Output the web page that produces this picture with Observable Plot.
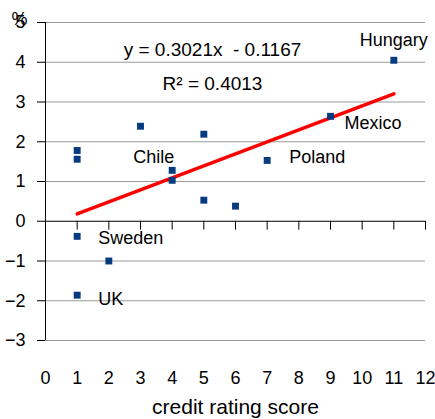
<!DOCTYPE html>
<html>
<head>
<meta charset="utf-8">
<script src="https://cdn.jsdelivr.net/npm/d3@7"></script>
<script src="https://cdn.jsdelivr.net/npm/@observablehq/plot@0.6"></script>
<style>
  html, body { margin: 0; padding: 0; background: #fff; }
  #chart svg { display: block; }
</style>
</head>
<body>
<div id="chart"></div>
<script>
// Data
const creditScore = [1, 1, 1, 1, 2, 3, 4, 4, 5, 5, 6, 7, 9, 11];
const spreadValues = [1.78, 1.56, -1.86, -0.38, -1.0, 2.39, 1.28, 1.03, 2.19, 0.53, 0.38, 1.53, 2.64, 4.05];
const pointLabels = ["", "", "UK", "Sweden", "", "", "Chile", "", "", "", "", "Poland", "Mexico", "Hungary"];

const xTicks = [0, 1, 2, 3, 4, 5, 6, 7, 8, 9, 10, 11, 12];
const yTicks = [-3, -2, -1, 0, 1, 2, 3, 4, 5];
const gridValues = [-3, -2, -1, 1, 2, 3, 4, 5];

const trendSlope = 0.3021;
const trendIntercept = -0.1167;
const trendRange = [1, 11];
const equationText = "y = 0.3021x  - 0.1167";
const r2Text = "R\u00B2 = 0.4013";
const xLabel = "credit rating score";
const yUnit = "%";

const points = creditScore.map((x, i) => ({x, y: spreadValues[i], label: pointLabels[i]}));
const trend = trendRange.map(x => ({x, y: trendSlope * x + trendIntercept}));

// label offsets (styling, in pixels)
const labelStyle = {
  "Hungary": {dx: 0, dy: -20, anchor: "middle"},
  "Mexico": {dx: 14, dy: 7, anchor: "start"},
  "Poland": {dx: 22, dy: -3, anchor: "start"},
  "Chile": {dx: -39, dy: -13, anchor: "start"},
  "Sweden": {dx: 21, dy: 2, anchor: "start"},
  "UK": {dx: 21, dy: 4, anchor: "start"}
};
const labeled = points.filter(d => d.label);

const font = "Liberation Sans, Arial, sans-serif";
const textMarks = labeled.map(d => Plot.text([d], {
  x: "x", y: "y", text: "label",
  dx: labelStyle[d.label].dx, dy: labelStyle[d.label].dy,
  textAnchor: labelStyle[d.label].anchor,
  lineAnchor: "middle",
  fontSize: 18, fill: "#000"
}));

const tickShape = {draw(context, l) { context.moveTo(0, 0); context.lineTo(0, -l); }};

const chart = Plot.plot({
  width: 435,
  height: 419,
  marginLeft: 45,
  marginRight: 10,
  marginTop: 22,
  marginBottom: 79,
  style: {fontFamily: font, background: "#fff", color: "#000"},
  x: {domain: [0, 12]},
  y: {domain: [-3, 5]},
  marks: [
    Plot.ruleY(gridValues, {x1: 0, x2: 12, stroke: "#9a9a9a", strokeWidth: 1}),
    Plot.ruleY([0], {x1: 0, x2: 12, stroke: "#000", strokeWidth: 1}),
    Plot.ruleX([0], {y1: -3, y2: 5, stroke: "#000", strokeWidth: 1}),
    Plot.vector(xTicks.slice(1), {x: d => d, y: 0, length: 8, rotate: 180, anchor: "start", shape: tickShape, stroke: "#000", strokeWidth: 1}),
    Plot.axisY({ticks: yTicks, tickSize: 8, tickPadding: 12, label: null, fontSize: 18}),
    Plot.axisX({ticks: xTicks, tickSize: 0, tickPadding: 31, label: null, fontSize: 18}),
    Plot.text([xLabel], {frameAnchor: "bottom", dy: 67, fontSize: 21, lineAnchor: "middle"}),
    Plot.text([yUnit], {frameAnchor: "top-left", dx: -26, dy: -3, fontSize: 18, lineAnchor: "middle", textAnchor: "middle"}),
    Plot.line(trend, {x: "x", y: "y", stroke: "#ff0000", strokeWidth: 3.5}),
    Plot.dot(points, {x: "x", y: "y", symbol: "square", r: 3.9, fill: "#073b80", stroke: "none"}),
    ...textMarks,
    Plot.text([equationText], {frameAnchor: "top-left", dx: 167, dy: 27, fontSize: 19, textAnchor: "middle", lineAnchor: "middle"}),
    Plot.text([r2Text], {frameAnchor: "top-left", dx: 167, dy: 61, fontSize: 19, textAnchor: "middle", lineAnchor: "middle"})
  ]
});
document.getElementById("chart").append(chart);
</script>
</body>
</html>
